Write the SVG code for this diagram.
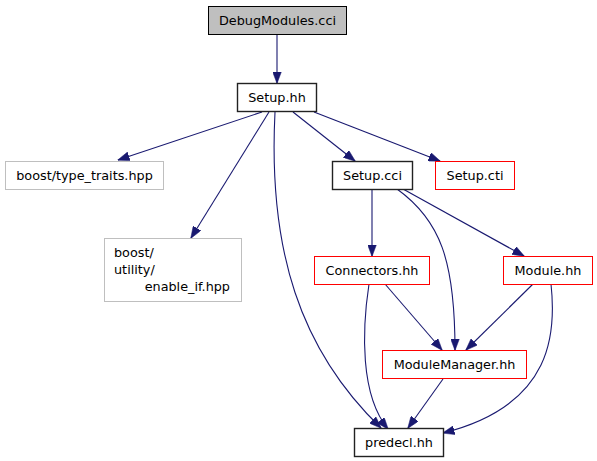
<svg xmlns="http://www.w3.org/2000/svg" width="597" height="461" viewBox="0 0 597 461">
<style>
text{font-family:"DejaVu Sans","Liberation Sans",sans-serif;font-size:12.8px;fill:#000}
.c{text-anchor:middle}
.n{fill:#fff;stroke-width:1}
.blk{stroke:#222;stroke-width:1.4}
.gry{stroke:#bfbfbf}
.red{stroke:#ff0000}
.e{fill:none;stroke:#191970;stroke-width:1.1;marker-end:url(#a)}
</style>
<defs>
<marker id="a" viewBox="0 0 12 9" refX="11.5" refY="4.5" markerWidth="12" markerHeight="9" markerUnits="userSpaceOnUse" orient="auto">
<polygon points="0,0 12,4.5 0,9" fill="#191970" stroke="#191970" stroke-width="0.5"/>
</marker>
</defs>
<rect width="597" height="461" fill="#fff"/>
<g id="edges">
<path class="e" d="M277,34 L277,83"/>
<path class="e" d="M262,112 L118,160"/>
<path class="e" d="M269,112 L191,238"/>
<path class="e" d="M275,112 C268,250 300,350 381,428"/>
<path class="e" d="M293,112 L355,161"/>
<path class="e" d="M314,112 L440,161"/>
<path class="e" d="M372,189 L372,256"/>
<path class="e" d="M397,189 C440,220 455,260 455,350"/>
<path class="e" d="M403,189 L524,256"/>
<path class="e" d="M369,284 C362,330 360,395 388,429"/>
<path class="e" d="M385,284 L442,350"/>
<path class="e" d="M533,284 L466,350"/>
<path class="e" d="M551,284 C556,330 555,405 443,433"/>
<path class="e" d="M443,379 L408,428"/>
</g>
<g id="DebugModules"><rect x="208.5" y="6.5" width="138" height="28" fill="#bfbfbf" stroke="#000"/><text class="c" x="277.5" y="25">DebugModules.cci</text></g>
<g id="SetupHH"><rect class="n blk" x="237.5" y="83.5" width="79" height="28"/><text class="c" x="277" y="102">Setup.hh</text></g>
<g id="TypeTraits"><rect class="n gry" x="5.5" y="161.5" width="158" height="28"/><text class="c" x="84.5" y="180">boost/type_traits.hpp</text></g>
<g id="EnableIf"><rect class="n gry" x="104.5" y="238.5" width="137" height="63"/><text x="114" y="257">boost/</text><text x="114" y="274">utility/</text><text x="230" y="291" text-anchor="end">enable_if.hpp</text></g>
<g id="SetupCCI"><rect class="n blk" x="332.5" y="161.5" width="80" height="28"/><text class="c" x="372.5" y="180">Setup.cci</text></g>
<g id="SetupCTI"><rect class="n red" x="435.5" y="161.5" width="79" height="28"/><text class="c" x="475" y="180">Setup.cti</text></g>
<g id="Connectors"><rect class="n red" x="314.5" y="256.5" width="115" height="28"/><text class="c" x="372" y="275">Connectors.hh</text></g>
<g id="Module"><rect class="n red" x="503.5" y="256.5" width="89" height="28"/><text class="c" x="548" y="275">Module.hh</text></g>
<g id="ModuleManager"><rect class="n red" x="382.5" y="350.5" width="144" height="28"/><text class="c" x="454.5" y="369">ModuleManager.hh</text></g>
<g id="predecl"><rect class="n blk" x="354.5" y="428.5" width="89" height="28"/><text class="c" x="399" y="447">predecl.hh</text></g>
</svg>
